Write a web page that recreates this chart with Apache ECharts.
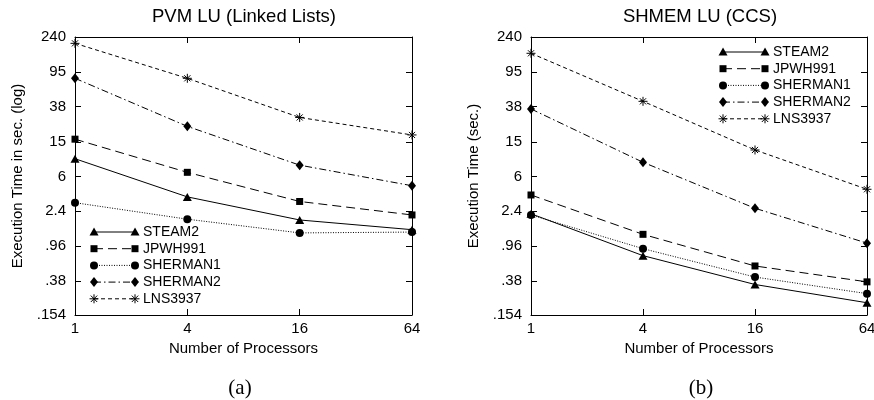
<!DOCTYPE html>
<html><head><meta charset="utf-8">
<script src="https://cdn.jsdelivr.net/npm/echarts@6/dist/echarts.min.js"></script>
<style>html,body{margin:0;padding:0;background:#fff}#c{width:874px;height:400px}</style>
</head><body><div id="c"></div>
<script>
// ---- data ----
const processors = [1, 4, 16, 64];
const yTickValues = [0.154, 0.38, 0.96, 2.4, 6, 15, 38, 95, 240];
const yTickLabels = ['.154', '.38', '.96', '2.4', '6', '15', '38', '95', '240'];
const seriesNames = ['STEAM2', 'JPWH991', 'SHERMAN1', 'SHERMAN2', 'LNS3937'];
// PVM LU (Linked Lists)
const pvmSTEAM2   = [9.6, 3.5, 1.9, 1.47];
const pvmJPWH991  = [16.1, 6.7, 3.1, 2.17];
const pvmSHERMAN1 = [3.0, 1.94, 1.35, 1.38];
const pvmSHERMAN2 = [80.5, 22.6, 8.1, 4.7];
const pvmLNS3937  = [203, 80.5, 28.6, 18.0];
// SHMEM LU (CCS)
const shmSTEAM2   = [2.24, 0.74, 0.345, 0.213];
const shmJPWH991  = [3.68, 1.30, 0.563, 0.37];
const shmSHERMAN1 = [2.17, 0.89, 0.42, 0.271];
const shmSHERMAN2 = [35.8, 8.74, 2.59, 1.03];
const shmLNS3937  = [156, 43.8, 12.1, 4.28];

const titles = ['PVM LU (Linked Lists)', 'SHMEM LU (CCS)'];
const yNames = ['Execution Time in sec. (log)', 'Execution Time (sec.)'];
const xName = 'Number of Processors';
const captions = ['(a)', '(b)'];

// ---- styles ----
const FONT = '"Liberation Sans", Arial, Helvetica, sans-serif';
const starPath = 'path://M5,0V10M0,5H10M1.6,1.6L8.4,8.4M8.4,1.6L1.6,8.4';
const styles = {
  STEAM2:   { symbol: 'triangle', size: [9, 8], dash: 'solid', legend: 'triangle' },
  JPWH991:  { symbol: 'rect', size: 7, dash: [9, 5], legend: 'rect' },
  SHERMAN1: { symbol: 'circle', size: 8, dash: [1, 1.5], legend: 'circle' },
  SHERMAN2: { symbol: 'diamond', size: [8, 10], dash: [7, 3, 1.5, 3], legend: 'diamond' },
  LNS3937:  { symbol: starPath, size: 9, dash: [4, 3], border: 1, legend: 'star' }
};

const grids = [
  { left: 75, top: 37, width: 337, height: 278, outerBoundsMode: 'none', containLabel: false },
  { left: 531, top: 37, width: 336, height: 278, outerBoundsMode: 'none', containLabel: false }
];

function yLabel(v) {
  for (let i = 0; i < yTickValues.length; i++) {
    if (Math.abs(v / yTickValues[i] - 1) < 1e-3) return yTickLabels[i];
  }
  return '';
}

const xAxes = [], yAxes = [];
[0, 1].forEach(g => {
  const common = {
    gridIndex: g, type: 'log', logBase: 4, min: 1, max: 64,
    axisLine: { show: true, lineStyle: { color: '#000', width: 1 } },
    axisTick: { show: true, inside: true, length: 6, lineStyle: { color: '#000' } },
    splitLine: { show: false }, minorTick: { show: false }
  };
  xAxes.push(Object.assign({}, common, {
    position: 'bottom',
    name: xName, nameLocation: 'middle', nameGap: 25,
    nameTextStyle: { fontFamily: FONT, fontSize: 15, color: '#000' },
    axisLabel: { show: true, margin: 6, fontFamily: FONT, fontSize: 15, color: '#000' }
  }));
  xAxes.push(Object.assign({}, common, { position: 'top', axisLabel: { show: false } }));
  const ycommon = {
    gridIndex: g, type: 'log', logBase: 10, min: 0.154, max: 240,
    axisLine: { show: true, lineStyle: { color: '#000', width: 1 } },
    axisTick: { show: true, inside: true, length: 6, lineStyle: { color: '#000' }, customValues: yTickValues },
    splitLine: { show: false }, minorTick: { show: false }
  };
  yAxes.push(Object.assign({}, ycommon, {
    position: 'left',
    name: yNames[g], nameLocation: 'middle', nameGap: 50, nameRotate: 90,
    nameTextStyle: { fontFamily: FONT, fontSize: 15, color: '#000' },
    axisLabel: { show: true, margin: 9, fontFamily: FONT, fontSize: 15, color: '#000',
      customValues: yTickValues, formatter: yLabel }
  }));
  yAxes.push(Object.assign({}, ycommon, { position: 'right', axisLabel: { show: false } }));
});

function makeSeries(values, name, g) {
  const st = styles[name];
  return {
    type: 'line', name: name + (g ? ' (b)' : ' (a)'),
    xAxisIndex: g * 2, yAxisIndex: g * 2,
    data: processors.map((p, i) => [p, values[i]]),
    symbol: st.symbol, symbolSize: st.size, showSymbol: true,
    lineStyle: { color: '#000', width: 1, type: st.dash },
    itemStyle: { color: '#000', borderColor: '#000', borderWidth: st.border || 0 },
    clip: false, z: 3, animation: false, silent: true
  };
}

const panelData = [
  [pvmSTEAM2, pvmJPWH991, pvmSHERMAN1, pvmSHERMAN2, pvmLNS3937],
  [shmSTEAM2, shmJPWH991, shmSHERMAN1, shmSHERMAN2, shmLNS3937]
];
const series = [];
panelData.forEach((arr, g) => arr.forEach((vals, i) => series.push(makeSeries(vals, seriesNames[i], g))));

// ---- legend drawn as graphics (marker - line - marker, label) ----
function marker(type, cx, cy) {
  const st = { fill: '#000', stroke: null };
  if (type === 'triangle') return { type: 'polygon', shape: { points: [[cx, cy - 4.5], [cx + 4.5, cy + 3.5], [cx - 4.5, cy + 3.5]] }, style: st };
  if (type === 'rect') return { type: 'rect', shape: { x: cx - 3.5, y: cy - 3.5, width: 7, height: 7 }, style: st };
  if (type === 'circle') return { type: 'circle', shape: { cx: cx, cy: cy, r: 4 }, style: st };
  if (type === 'diamond') return { type: 'polygon', shape: { points: [[cx, cy - 5], [cx + 4, cy], [cx, cy + 5], [cx - 4, cy]] }, style: st };
  const ls = { stroke: '#000', lineWidth: 1 };
  return { type: 'group', children: [
    { type: 'line', shape: { x1: cx - 4.5, y1: cy, x2: cx + 4.5, y2: cy }, style: ls },
    { type: 'line', shape: { x1: cx, y1: cy - 4.5, x2: cx, y2: cy + 4.5 }, style: ls },
    { type: 'line', shape: { x1: cx - 3.2, y1: cy - 3.2, x2: cx + 3.2, y2: cy + 3.2 }, style: ls },
    { type: 'line', shape: { x1: cx + 3.2, y1: cy - 3.2, x2: cx - 3.2, y2: cy + 3.2 }, style: ls }
  ] };
}
const legendLayouts = [
  { x0: 94, x1: 135, tx: 143, y0: 232, dy: 16.7 },
  { x0: 723, x1: 765, tx: 773, y0: 52, dy: 16.7 }
];
const graphics = [];
legendLayouts.forEach(L => {
  seriesNames.forEach((n, i) => {
    const st = styles[n];
    const y = L.y0 + i * L.dy;
    graphics.push({ type: 'line', shape: { x1: L.x0, y1: y, x2: L.x1, y2: y },
      style: { stroke: '#000', lineWidth: 1, lineDash: st.dash === 'solid' ? null : st.dash }, z: 10 });
    graphics.push(Object.assign(marker(st.legend, L.x0, y), { z: 11 }));
    graphics.push(Object.assign(marker(st.legend, L.x1, y), { z: 11 }));
    graphics.push({ type: 'text', x: L.tx, y: y, z: 11,
      style: { text: n, fill: '#000', font: '14px ' + FONT, verticalAlign: 'middle', align: 'left' } });
  });
});
// titles and captions
const titleX = [244, 700];
titles.forEach((t, g) => {
  graphics.push({ type: 'text', x: titleX[g], y: 17,
    style: { text: t, fill: '#000', font: '18.5px ' + FONT, align: 'center', verticalAlign: 'middle' } });
});
const capX = [240, 701];
captions.forEach((t, g) => {
  graphics.push({ type: 'text', x: capX[g], y: 388,
    style: { text: t, fill: '#000', font: '21px "Liberation Serif", "DejaVu Serif", serif', align: 'center', verticalAlign: 'middle' } });
});

const chart = echarts.init(document.getElementById('c'), null, { renderer: 'canvas' });
chart.setOption({
  backgroundColor: '#fff',
  animation: false,
  grid: grids,
  xAxis: xAxes,
  yAxis: yAxes,
  series: series,
  graphic: graphics
});
</script>
</body></html>
